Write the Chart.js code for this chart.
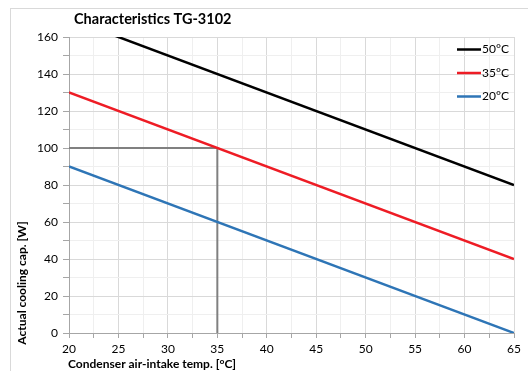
<!DOCTYPE html>
<html>
<head>
<meta charset="utf-8">
<script src="https://cdn.jsdelivr.net/npm/chart.js@4"></script>
<style>
  html, body { margin: 0; padding: 0; background: #fff; }
  #wrap { width: 528px; height: 371px; position: relative; }
</style>
</head>
<body>
<div id="wrap"><canvas id="tgChart"></canvas></div>
<script>
// chart data
const titleText = "Characteristics TG-3102";
const xTitle = "Condenser air-intake temp. [°C]";
const yTitle = "Actual cooling cap. [W]";
const seriesLabels = ["50°C", "35°C", "20°C"];
const seriesColors = ["#000000", "#ee1c25", "#2e75b6"];
const intakeTemps = [20, 65];
const cap50 = [170, 80];
const cap35 = [130, 40];
const cap20 = [90, 0];
const refX = [20, 35, 35];
const refY = [100, 100, 0];
const xMin = 20, xMax = 65, yMin = 0, yMax = 160;

const seriesValues = [cap50, cap35, cap20];
const font = "Lato, 'Open Sans', sans-serif";

const datasets = seriesValues.map((vals, i) => ({
  label: seriesLabels[i],
  data: intakeTemps.map((x, j) => ({ x: x, y: vals[j] })),
  borderColor: seriesColors[i],
  backgroundColor: seriesColors[i],
  borderWidth: 2.5,
  pointRadius: 0,
  order: 1
}));
datasets.push({
  label: "ref",
  data: refX.map((x, j) => ({ x: x, y: refY[j] })),
  borderColor: "#808080",
  borderWidth: 2,
  pointRadius: 0,
  order: 2
});

// titles, legend and frame drawn on top
const decorations = {
  id: "decorations",
  afterDraw(chart) {
    const ctx = chart.ctx;
    ctx.save();
    ctx.strokeStyle = "#d9d9d9";
    ctx.lineWidth = 1;
    ctx.strokeRect(10.5, 8.5, 530, 400);

    ctx.fillStyle = "#000";
    ctx.font = "bold 14.5px " + font;
    ctx.textBaseline = "middle";
    ctx.textAlign = "left";
    ctx.fillText(titleText, 74, 19);

    ctx.font = "bold 12px " + font;
    ctx.fillText(xTitle, 68, 364);
    ctx.translate(22, 283);
    ctx.rotate(-Math.PI / 2);
    ctx.textAlign = "center";
    ctx.fillText(yTitle, 0, 0);
    ctx.restore();

    ctx.save();
    ctx.font = "12px " + font;
    ctx.textBaseline = "middle";
    chart.data.datasets.slice(0, 3).forEach((ds, i) => {
      const y = 49.5 + i * 23.5;
      ctx.strokeStyle = ds.borderColor;
      ctx.lineWidth = 2.5;
      ctx.beginPath();
      ctx.moveTo(457, y);
      ctx.lineTo(481, y);
      ctx.stroke();
      ctx.fillStyle = "#000";
      ctx.fillText(ds.label, 482, y);
    });
    ctx.restore();
  }
};

const gridColor = (ctx) => {
  const v = ctx.tick ? ctx.tick.value : 0;
  return ctx.scale.axis === "x"
    ? (v % 5 === 0 ? "#d9d9d9" : "#efefef")
    : (v % 20 === 0 ? "#d9d9d9" : "#efefef");
};

new Chart(document.getElementById("tgChart").getContext("2d"), {
  type: "line",
  data: { datasets: datasets },
  options: {
    responsive: true,
    maintainAspectRatio: false,
    animation: false,
    layout: { padding: { top: 37, right: 14, left: 0, bottom: 0 } },
    plugins: { legend: { display: false }, tooltip: { enabled: false } },
    scales: {
      x: {
        type: "linear",
        min: xMin,
        max: xMax,
        afterFit: (s) => { s.height = 38; },
        border: { color: "#a6a6a6", width: 1 },
        grid: { color: gridColor, tickColor: "#a6a6a6", tickLength: 5 },
        ticks: {
          stepSize: 2.5,
          autoSkip: false,
          maxRotation: 0,
          padding: 4,
          color: "#000",
          font: { family: font, size: 12 },
          callback: (v) => (v % 5 === 0 ? v : "")
        }
      },
      y: {
        min: yMin,
        max: yMax,
        afterFit: (s) => { s.width = 69; },
        border: { color: "#a6a6a6", width: 1 },
        grid: { color: gridColor, tickColor: "#a6a6a6", tickLength: 6 },
        ticks: {
          stepSize: 10,
          autoSkip: false,
          padding: 5,
          color: "#000",
          font: { family: font, size: 12 },
          callback: (v) => (v % 20 === 0 ? v : "")
        }
      }
    }
  },
  plugins: [decorations]
});
</script>
</body>
</html>
